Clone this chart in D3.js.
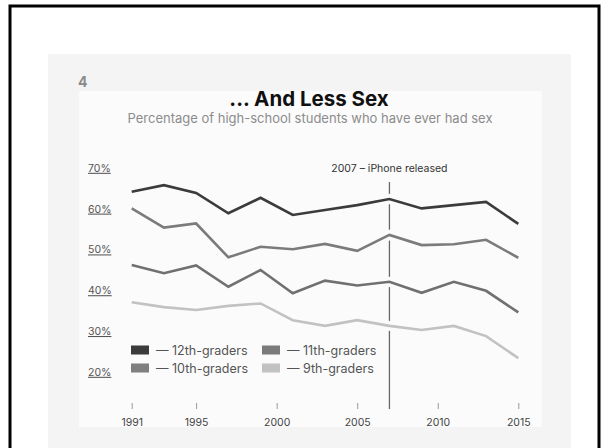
<!DOCTYPE html>
<html><head><meta charset="utf-8">
<script src="https://cdn.jsdelivr.net/npm/d3@7"></script>
<style>html,body{margin:0;padding:0;background:#fff;}svg{display:block;font-family:Inter,"Open Sans",sans-serif;}</style>
</head><body>
<svg id="c" width="607" height="448"></svg>
<script>
const years = [1991,1993,1995,1997,1999,2001,2003,2005,2007,2009,2011,2013,2015];
const grade12 = [64.2,65.8,63.9,58.9,62.7,58.5,59.7,60.9,62.4,60.1,60.9,61.7,56.3];
const grade11 = [60.1,55.4,56.4,48.1,50.7,50.1,51.4,49.7,53.6,51.1,51.3,52.4,48.0];
const grade10 = [46.2,44.2,46.1,40.9,45.0,39.3,42.4,41.2,42.1,39.4,42.1,39.9,34.6];
const grade9  = [37.1,35.9,35.2,36.2,36.8,32.7,31.3,32.7,31.3,30.3,31.3,28.8,23.4];
const yTicks = [20,30,40,50,60,70];
const xTicks = [1991,1995,2000,2005,2010,2015];
const seriesNames = ["12th-graders","11th-graders","10th-graders","9th-graders"];
const seriesData = [grade12, grade11, grade10, grade9];
const colors = ["#3b3b3b","#7b7b7b","#707070","#c2c2c2"];

const svg = d3.select("#c");
// frame and panels
svg.append("rect").attr("x",10).attr("y",6).attr("width",589).attr("height",470)
  .attr("fill","#fff").attr("stroke","#000").attr("stroke-width",3);
svg.append("rect").attr("x",48).attr("y",54).attr("width",523).attr("height",400).attr("fill","#f4f4f4");
svg.append("rect").attr("x",79).attr("y",91).attr("width",463).attr("height",336).attr("fill","#fbfbfb");

svg.append("text").attr("x",78).attr("y",87).attr("font-size",14).attr("font-weight",700)
  .attr("fill","#8a8a8a").text("4");
svg.append("text").attr("x",309).attr("y",106).attr("text-anchor","middle").attr("font-size",20.5)
  .attr("font-weight",700).attr("fill","#111").text("... And Less Sex");
svg.append("text").attr("x",310).attr("y",123).attr("text-anchor","middle").attr("font-size",13)
  .attr("fill","#8c8c8c").text("Percentage of high-school students who have ever had sex");

const x = d3.scaleLinear().domain([1991,2015]).range([131.7,518.3]);
const y = d3.scaleLinear().domain([20,70]).range([372,168]);

// y labels
svg.append("g").selectAll("text").data(yTicks).join("text")
  .attr("x",88).attr("y",d=>y(d)+3.8).attr("font-size",10.5).attr("fill","#555")
  .attr("text-decoration","underline").text(d=>d+"%");

// x axis ticks
const xAxis = d3.axisBottom(x).tickValues(xTicks).tickFormat(d3.format("d")).tickSize(6).tickPadding(10);
const gx = svg.append("g").attr("transform","translate(0,403)").call(xAxis);
gx.select(".domain").remove();
gx.selectAll(".tick line").attr("stroke","#999").attr("stroke-width",1);
gx.selectAll(".tick text").attr("font-size",10.5).attr("fill","#444").attr("font-family","Inter,sans-serif");

// iPhone line
svg.append("line").attr("x1",x(2007)).attr("x2",x(2007)).attr("y1",182).attr("y2",409)
  .attr("stroke","#666").attr("stroke-width",1.3);
svg.append("text").attr("x",x(2007)).attr("y",172).attr("text-anchor","middle").attr("font-size",10.5)
  .attr("fill","#333").text("2007 – iPhone released");

const line = d3.line().x((d,i)=>x(years[i])).y(d=>y(d));
seriesData.forEach((s,k)=>{
  svg.append("path").datum(s).attr("d",line).attr("fill","none").attr("stroke","#fbfbfb").attr("stroke-width",10);
});
seriesData.forEach((s,k)=>{
  svg.append("path").datum(s).attr("d",line).attr("fill","none").attr("stroke",colors[k])
    .attr("stroke-width",2.6).attr("stroke-linejoin","miter");
});

// legend
const legendPos = [[131,350],[262,350],[131,368],[262,368]];
const legendColors = ["#3b3b3b","#7b7b7b","#808080","#c2c2c2"];
seriesNames.forEach((name,k)=>{
  const [lx,ly] = legendPos[k];
  svg.append("rect").attr("x",lx).attr("y",ly-4.5).attr("width",18).attr("height",9).attr("fill",legendColors[k]);
  svg.append("text").attr("x",lx+25).attr("y",ly+4.5).attr("font-size",12.5).attr("fill","#555")
    .text("— "+name);
});
</script>
</body></html>
